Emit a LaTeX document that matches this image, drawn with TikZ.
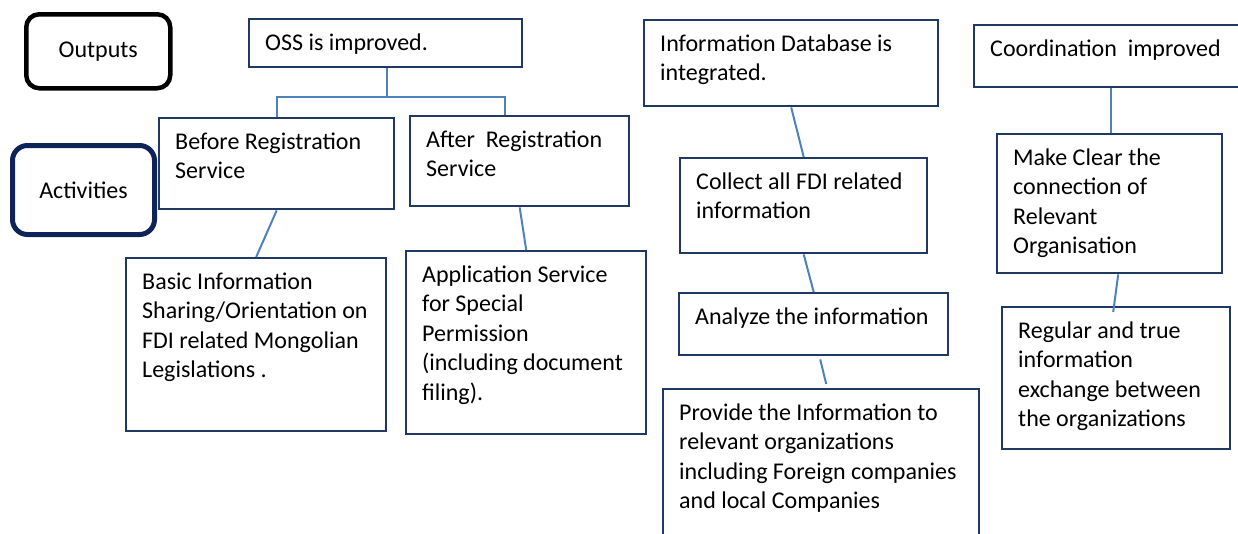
\documentclass[tikz,border=0pt]{standalone}
\usepackage{fontspec}
\setmainfont{Carlito}
\usetikzlibrary{calc}
\definecolor{boxline}{RGB}{31,56,100}
\definecolor{actline}{RGB}{14,36,88}
\definecolor{linkline}{RGB}{79,129,189}
\tikzset{
  box/.style={draw=boxline, line width=2.4pt, rectangle, inner sep=0pt, anchor=north west},
  lbl/.style={anchor=base west, inner sep=0pt, font=\fontsize{24}{29.5}\selectfont},
  conn/.style={draw=linkline, line width=2pt},
  tag/.style={rounded corners=13pt, inner sep=0pt, anchor=north west, font=\fontsize{24}{29.5}\selectfont},
}
% #1 name, #2 x, #3 y (top-left), #4 width, #5 height, #6 text
\newcommand{\textbox}[6]{%
  \node[box, minimum width=#4pt, minimum height=#5pt] (#1) at (#2,#3) {};
  \node[lbl] (#1-t) at ($(#1.north west)+(17,32)$) {\parbox[t]{#4pt}{#6}};
}
\begin{document}
\begin{tikzpicture}[x=1pt, y=-1pt]
\useasboundingbox (0,0) rectangle (1238,533);
\clip (0,0) rectangle (1238,533);

% row labels
\node[tag, draw=black, line width=4.5pt, minimum width=144pt, minimum height=74pt] (outputs) at (24,12) {Outputs};
\node[tag, draw=actline, line width=5pt, rounded corners=15pt, minimum width=142pt, minimum height=89pt] (activities) at (10,143) {Activities};

% OSS branch
\textbox{oss}{248}{18}{273}{48}{OSS is improved.}
\textbox{before}{158}{117}{235}{91}{Before Registration\\Service}
\textbox{after}{409}{115}{219}{90}{After~~Registration\\Service}
\textbox{basic}{125}{257}{260}{173}{Basic Information\\Sharing/Orientation on\\FDI related Mongolian\\Legislations .}
\textbox{app}{405}{250}{240}{183}{Application Service\\for Special\\Permission\\(including document\\filing).}

% database branch
\textbox{infodb}{643}{19}{294}{86}{Information Database is\\integrated.}
\textbox{collect}{679}{157}{247}{95}{Collect all FDI related\\information}
\textbox{analyze}{678}{292}{269}{62}{Analyze the information}
\textbox{provide}{662}{388}{316}{180}{Provide the Information to\\relevant organizations\\including Foreign companies\\and local Companies}

% coordination branch
\textbox{coord}{973}{24}{280}{62}{Coordination~~improved}
\textbox{make}{996}{133}{225}{139}{Make Clear the\\connection of\\Relevant\\Organisation}
\textbox{regular}{1001}{306}{228}{142}{Regular and true\\information\\exchange between\\the organizations}

% connectors
\draw[conn] ([xshift=1.5pt]oss.south) -- ++(0,29) -| (before.north);
\draw[conn] ([xshift=1.5pt]oss.south) -- ++(0,29) -| ([xshift=-14.5pt]after.north);
\draw[conn] (before.south) -- (basic.north);
\draw[conn] (after.south) -- (app.north);
\draw[conn] (infodb.south) -- (collect.north);
\draw[conn] (collect.south) -- (analyze.north);
\draw[conn] ([xshift=6.5pt,yshift=-3pt]analyze.south) -- ([xshift=5pt,yshift=4pt]provide.north);
\draw[conn] ([xshift=1.5pt]make.north) -- ([xshift=1.5pt]make.north |- coord.south);
\draw[conn] ([xshift=8.5pt]make.south) -- ([xshift=-3pt,yshift=-6pt]regular.north);
\end{tikzpicture}
\end{document}
